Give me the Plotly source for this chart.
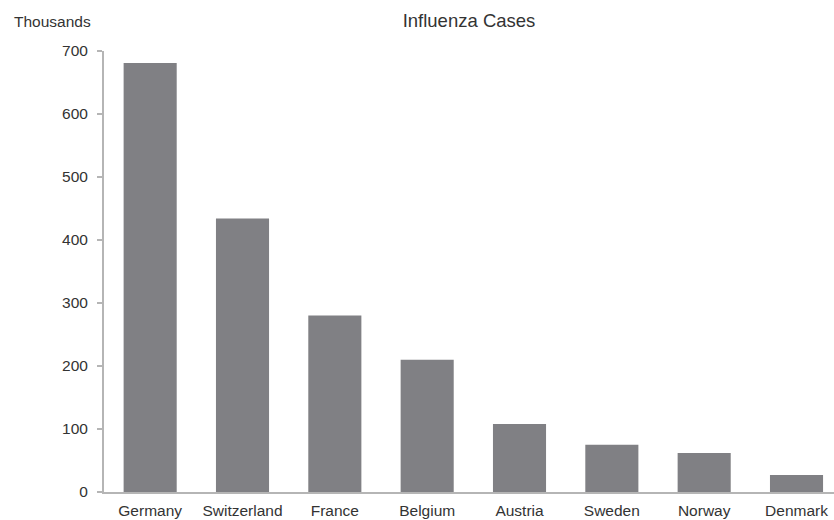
import plotly.graph_objects as go

# Influenza cases by country, in thousands
countries = ["Germany", "Switzerland", "France", "Belgium",
             "Austria", "Sweden", "Norway", "Denmark"]
cases_thousands = [681, 434, 280, 210, 108, 75, 62, 27]

y_ticks = [0, 100, 200, 300, 400, 500, 600, 700]

FONT = "Liberation Sans, Arial, sans-serif"
TEXT = "#333333"
AXIS = "#b5b5b5"
BAR = "#808084"

fig = go.Figure(
    go.Bar(
        x=countries,
        y=cases_thousands,
        marker=dict(color=BAR, line=dict(width=0)),
        width=0.575,
        hoverinfo="x+y",
    )
)

fig.update_layout(
    width=834,
    height=520,
    margin=dict(l=104, r=0, t=51, b=28, pad=0, autoexpand=False),
    paper_bgcolor="white",
    plot_bgcolor="white",
    showlegend=False,
    font=dict(family=FONT, size=15.5, color=TEXT),
    title=dict(
        text="Influenza Cases",
        x=0.5, xref="paper", xanchor="center",
        y=1 - 27 / 520, yref="container", yanchor="bottom",
        font=dict(family=FONT, size=18.5, color=TEXT),
        pad=dict(t=0, b=0),
    ),
    xaxis=dict(
        range=[-0.5, 7.406],
        automargin=False,
        showgrid=False,
        zeroline=False,
        showline=True,
        linecolor=AXIS,
        linewidth=2,
        ticks="",
        tickfont=dict(family=FONT, size=15.5, color=TEXT),
        ticklabelstandoff=3,
    ),
    yaxis=dict(
        range=[0, 700],
        automargin=False,
        tickvals=y_ticks,
        showgrid=False,
        zeroline=False,
        showline=True,
        linecolor=AXIS,
        linewidth=2,
        ticks="outside",
        ticklen=5,
        tickwidth=1.5,
        tickcolor=AXIS,
        tickfont=dict(family=FONT, size=15.5, color=TEXT),
        ticklabelstandoff=6,
    ),
    annotations=[
        dict(
            text="Thousands",
            xref="paper", yref="paper",
            x=(11.7 - 104) / 730, y=1 + (51 - 32) / 441,
            xanchor="left", yanchor="bottom",
            showarrow=False,
            font=dict(family=FONT, size=15.5, color=TEXT),
        )
    ],
)

fig.write_html("out.html")
